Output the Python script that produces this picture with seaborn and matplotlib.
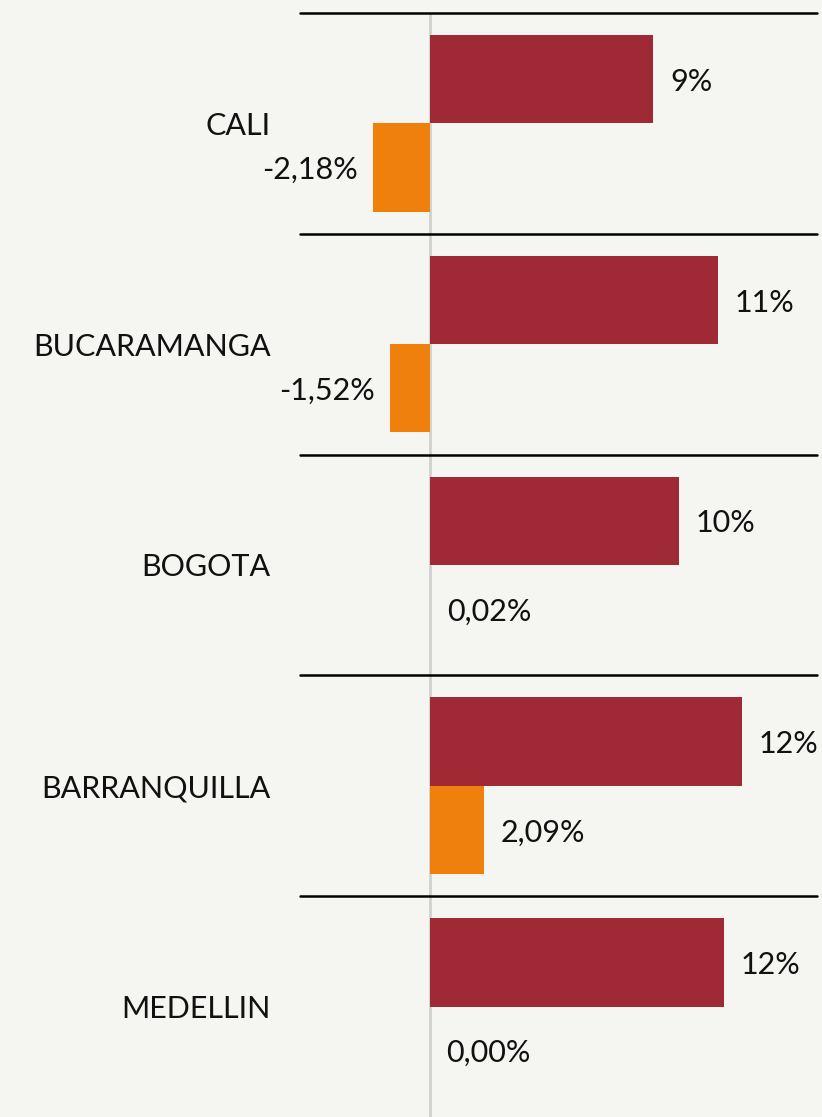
import pandas as pd
import seaborn as sns
import matplotlib.pyplot as plt

# chart data
cities = ['CALI', 'BUCARAMANGA', 'BOGOTA', 'BARRANQUILLA', 'MEDELLIN']
red_values = [8.6, 11.1, 9.6, 12.0, 11.3]
red_labels = ['9%', '11%', '10%', '12%', '12%']
orange_values = [-2.18, -1.52, 0.02, 2.09, 0.00]
orange_labels = ['-2,18%', '-1,52%', '0,02%', '2,09%', '0,00%']
series = ['Serie 1', 'Serie 2']

red = '#A02936'
orange = '#F0800C'
bg = '#F5F5F1'

df = pd.DataFrame({
    'city': cities * 2,
    'value': red_values + orange_values,
    'serie': [series[0]] * len(cities) + [series[1]] * len(cities),
    'label': red_labels + orange_labels,
})

sns.set_theme(style='white')
plt.rcParams['font.family'] = ['Lato', 'DejaVu Sans']

fig = plt.figure(figsize=(8.22, 11.17), dpi=100, facecolor=bg)
ax = fig.add_axes([0.365, 0.0, 0.629, 0.9884])
ax.set_facecolor(bg)

sns.barplot(data=df, y='city', x='value', hue='serie', orient='h',
            palette=[red, orange], width=0.8, ax=ax, legend=False,
            saturation=1, edgecolor='none')

ax.set_xlim(-5.0, 14.9)
ax.set_ylim(4.5, -0.5)

# zero line and separators
ax.axvline(0, color='#D0D0D0', lw=2, zorder=0)
for i in range(len(cities)):
    ax.axhline(i - 0.5, color='black', lw=1.8, zorder=3, clip_on=False)

# value labels
for cont, labels in zip(ax.containers, [red_labels, orange_labels]):
    for bar, lab in zip(cont, labels):
        w = bar.get_width()
        yc = bar.get_y() + bar.get_height() / 2
        if w < 0:
            ax.annotate(lab, (w, yc), xytext=(-11, 0), textcoords='offset points',
                        ha='right', va='center_baseline', fontsize=22, color='#111111')
        else:
            ax.annotate(lab, (w, yc), xytext=(12, 0), textcoords='offset points',
                        ha='left', va='center_baseline', fontsize=22, color='#111111')

ax.set_xticks([])
ax.set_xlabel('')
ax.set_ylabel('')
ax.tick_params(axis='y', length=0, pad=21, labelsize=22, labelcolor='#111111')
for s in ax.spines.values():
    s.set_visible(False)

plt.savefig('out.png', dpi=100, facecolor=bg)
